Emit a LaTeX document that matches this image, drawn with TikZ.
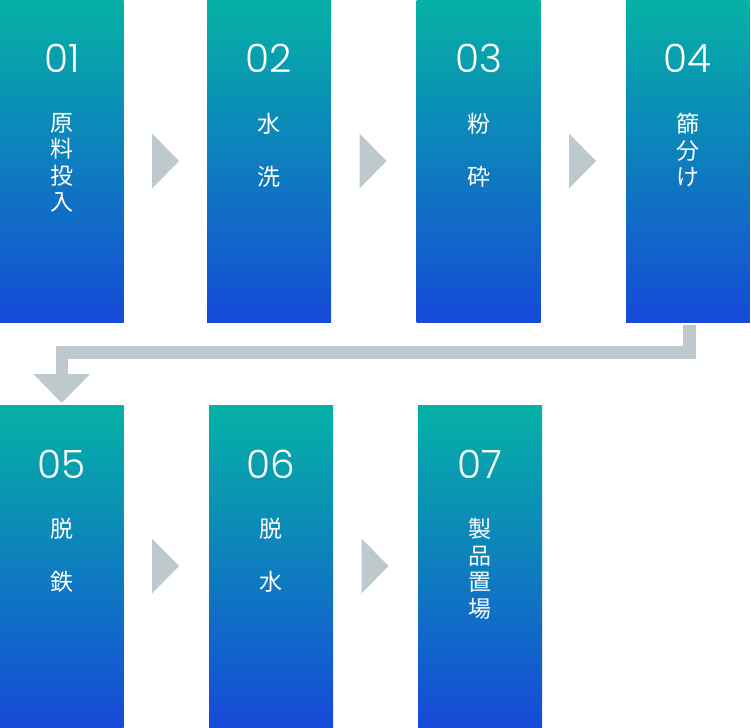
\documentclass[tikz,border=0pt]{standalone}
\usepackage{fontspec}
\newfontfamily\numfont{Poppins Light}
\newfontfamily\cjk{Noto Sans CJK JP}
\usetikzlibrary{arrows.meta,calc}
\definecolor{topc}{RGB}{5,178,165}
\definecolor{botc}{RGB}{22,74,216}
\definecolor{arrg}{RGB}{189,201,205}
\begin{document}
\begin{tikzpicture}[x=1pt,y=-1pt,
  box/.style={inner sep=0pt, outer sep=0pt, minimum width=#1, minimum height=322pt, top color=topc, bottom color=botc, draw=none},
  num/.style={anchor=base, inner sep=0pt, text=white, font=\numfont\fontsize{39}{40}\selectfont},
  jp/.style={anchor=north, inner sep=0pt, text=white, align=center, font=\cjk\fontsize{23}{26.5}\selectfont},
  tri/.style={fill=arrg, draw=none},
  conn/.style={draw=arrg, line width=12.5pt, line join=miter, -{Triangle[length=29pt,width=55pt]}}]
\useasboundingbox (0,0) rectangle (751,727);
% row 1
\node[box=123.5pt] (b1) at (61.75,161) {};
\node[box=124pt] (b2) at (269,161) {};
\node[box=124pt] (b3) at (478.5,161) {};
\node[box=123.5pt] (b4) at (687.75,161) {};
% row 2
\node[box=123.5pt] (b5) at (61.75,566) {};
\node[box=124pt] (b6) at (271,566) {};
\node[box=124pt] (b7) at (480,566) {};
% numbers
\node[num] (n1) at (61.75,73) {01};
\node[num] (n2) at (269,73) {02};
\node[num] (n3) at (478.5,73) {03};
\node[num] (n4) at (687.75,73) {04};
\node[num] (n5) at (61.75,478) {05};
\node[num] (n6) at (271,478) {06};
\node[num] (n7) at (480,478) {07};
% labels
\node[jp] (t1) at (61.75,113) {原\\料\\投\\入};
\node[jp] (t2) at (269,113) {水\\\mbox{}\\洗};
\node[jp] (t3) at (478.5,113) {粉\\\mbox{}\\砕};
\node[jp] (t4) at (687.75,113) {篩\\分\\け};
\node[jp] (t5) at (61.75,518) {脱\\\mbox{}\\鉄};
\node[jp] (t6) at (271,518) {脱\\\mbox{}\\水};
\node[jp] (t7) at (480,518) {製\\品\\置\\場};
% arrows between boxes
\foreach \b in {b1,b2,b3,b5,b6}{
  \fill[tri] ($(\b.east)+(28.5,-27.5)$) -- ($(\b.east)+(28.5,27.5)$) -- ($(\b.east)+(55.5,0)$) -- cycle;
}
% connector row 1 -> row 2
\draw[conn] ($(b4.south)+(1.5,3)$) |- ($(b5.north)+(0,-52.5)$) -- ($(b5.north)+(0,-2)$);
\end{tikzpicture}
\end{document}
